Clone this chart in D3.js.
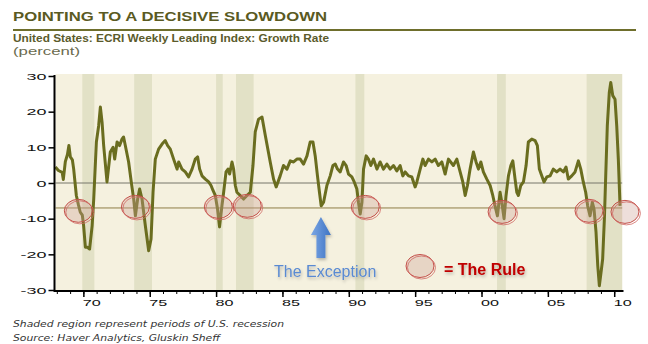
<!DOCTYPE html>
<html>
<head>
<meta charset="utf-8">
<script src="https://cdn.jsdelivr.net/npm/d3@7"></script>
<style>
  body { margin: 0; background: #fff; }
  svg { display: block; }
</style>
</head>
<body>
<svg id="chart" width="648" height="344"></svg>
<script>
// ECRI weekly leading index growth rate (percent)
var years = [
  1967.89, 1968.12, 1968.40, 1968.49, 1968.64, 1968.80, 1968.91, 1969.02, 1969.17, 1969.27,
  1969.47, 1969.62, 1969.77, 1969.92, 1970.02, 1970.15, 1970.30, 1970.47, 1970.66, 1970.78,
  1970.98, 1971.15, 1971.28, 1971.41, 1971.53, 1971.78, 1972.03, 1972.24, 1972.36, 1972.54,
  1972.73, 1972.91, 1973.03, 1973.16, 1973.41, 1973.61, 1973.79, 1973.92, 1974.09, 1974.24,
  1974.42, 1974.67, 1974.92, 1975.10, 1975.25, 1975.42, 1975.67, 1975.93, 1976.17, 1976.35,
  1976.55, 1976.80, 1977.06, 1977.18, 1977.43, 1977.68, 1977.93, 1978.19, 1978.43, 1978.61,
  1978.76, 1978.94, 1979.19, 1979.44, 1979.62, 1979.77, 1979.94, 1980.11, 1980.26, 1980.44,
  1980.57, 1980.75, 1980.90, 1981.02, 1981.20, 1981.32, 1981.45, 1981.57, 1981.82, 1982.07,
  1982.33, 1982.58, 1982.78, 1982.95, 1983.20, 1983.46, 1983.71, 1984.08, 1984.33, 1984.53,
  1984.83, 1985.08, 1985.34, 1985.59, 1985.84, 1986.09, 1986.34, 1986.59, 1986.85, 1987.09,
  1987.30, 1987.47, 1987.64, 1987.79, 1987.92, 1988.10, 1988.35, 1988.60, 1988.80, 1988.98,
  1989.15, 1989.35, 1989.60, 1989.80, 1989.98, 1990.23, 1990.41, 1990.61, 1990.73, 1990.86,
  1990.99, 1991.11, 1991.31, 1991.48, 1991.66, 1991.86, 1992.12, 1992.36, 1992.61, 1992.87,
  1993.12, 1993.37, 1993.62, 1993.87, 1994.07, 1994.25, 1994.50, 1994.75, 1995.00, 1995.13,
  1995.38, 1995.58, 1995.75, 1996.00, 1996.26, 1996.51, 1996.75, 1997.01, 1997.26, 1997.51,
  1997.88, 1998.14, 1998.39, 1998.59, 1998.77, 1998.94, 1999.14, 1999.39, 1999.59, 1999.77,
  1999.95, 2000.14, 2000.40, 2000.65, 2000.85, 2001.02, 2001.20, 2001.40, 2001.53, 2001.70,
  2001.85, 2002.03, 2002.21, 2002.36, 2002.53, 2002.66, 2002.78, 2002.96, 2003.16, 2003.36,
  2003.53, 2003.79, 2004.04, 2004.21, 2004.36, 2004.54, 2004.71, 2004.92, 2005.17, 2005.41,
  2005.67, 2005.92, 2006.17, 2006.37, 2006.54, 2006.80, 2007.05, 2007.30, 2007.48, 2007.67,
  2007.85, 2008.00, 2008.18, 2008.35, 2008.48, 2008.63, 2008.76, 2008.88, 2009.01, 2009.13,
  2009.26, 2009.36, 2009.48, 2009.63, 2009.74, 2009.89, 2010.06, 2010.19, 2010.31, 2010.44
];
var growth = [
  4.5, 3.5, 3.0, 1.0, 6.0, 8.0, 10.5, 7.3, 6.5, 3.9,
  -3.5, -6.0, -8.2, -9.0, -12.0, -18.0, -18.0, -18.5, -12.0, -4.5,
  11.5, 16.0, 21.3, 17.0, 10.5, 0.3, 8.7, 10.0, 6.7, 11.5,
  10.5, 12.3, 12.9, 10.5, 5.9, 0.3, -4.5, -9.2, -4.5, -1.7,
  -4.5, -12.0, -19.0, -15.7, -2.6, 6.7, 9.5, 10.9, 11.9, 10.5,
  9.5, 6.7, 3.9, 5.9, 3.9, 3.1, 1.7, 3.9, 6.7, 7.3,
  3.9, 2.0, 1.1, 0.3, -0.7, -2.1, -3.5, -7.3, -12.3, -6.4,
  -2.6, 3.1, 3.9, 2.5, 5.9, 3.9, -0.7, -2.6, -3.5, -4.5,
  -3.5, -2.6, 4.9, 14.3, 17.9, 18.5, 13.3, 5.9, 1.1, -1.1,
  2.0, 4.9, 3.9, 6.2, 5.9, 6.7, 6.7, 5.3, 7.6, 11.5,
  11.5, 7.6, 2.0, -2.6, -6.4, -5.4, -0.7, 2.0, 4.9, 5.3,
  3.9, 3.1, 5.9, 4.9, 2.5, 1.7, 0.3, -1.7, -5.4, -8.7,
  -5.4, 3.9, 7.6, 6.7, 4.9, 6.7, 3.9, 5.9, 3.9, 5.3,
  3.9, 4.9, 3.4, 4.9, 2.0, 3.1, 2.0, 1.7, -1.1, 0.3,
  3.9, 6.7, 4.9, 6.7, 5.9, 6.7, 4.9, 5.9, 2.5, 6.7,
  4.9, 6.7, 3.1, 0.3, -3.5, -0.7, 3.9, 8.7, 5.9, 3.9,
  5.9, 3.1, 1.1, -0.7, -3.5, -6.4, -9.2, -2.6, -5.4, -10.0,
  -3.5, 2.0, 4.9, 6.2, 1.1, -2.6, -3.5, -0.7, 0.3, 4.9,
  11.5, 12.3, 11.9, 10.5, 3.9, 2.0, 0.3, 1.7, 2.0, 3.9,
  3.1, 3.9, 3.1, 4.5, 1.1, 2.0, 3.1, 6.2, 3.9, 0.3,
  -2.6, -6.4, -9.2, -5.4, -7.3, -13.8, -23.2, -28.8, -25.0, -21.3,
  -10.0, 2.0, 16.0, 25.4, 28.2, 24.5, 23.5, 16.0, 6.7, -6.4
];

// US recessions (start, end) in decimal years
var recessionStart = [1969.92, 1973.83, 1980.0, 1981.5, 1990.5, 2001.17, 2007.92];
var recessionEnd   = [1970.83, 1975.17, 1980.5, 1982.83, 1991.17, 2001.83, 2010.6];

// "the rule" circles
var ruleYears  = [1969.62, 1973.92, 1980.17, 1982.35, 1991.24, 2001.55, 2008.1, 2010.81];
var ruleValues = [-7.8, -6.7, -6.7, -6.4, -6.7, -8.1, -7.8, -8.1];

var thresholdValue = -7;
var exceptionYear = 1987.9;

var yTicks = [-30, -20, -10, 0, 10, 20, 30];
var xMinorTicks = d3.range(1968, 2011);
var xMajorTicks = [1970, 1975, 1980, 1985, 1990, 1995, 2000, 2005, 2010];
var xTickLabels = ["70", "75", "80", "85", "90", "95", "00", "05", "10"];

var svg = d3.select("#chart");

var x = d3.scaleLinear().domain([1967.9, 2010.7]).range([55.5, 623.5]);
var y = d3.scaleLinear().domain([-30, 30]).range([290, 76]);
var plotRight = x(2010.6);

var defs = svg.append("defs");
var shadow = defs.append("filter").attr("id", "shadow")
    .attr("x", "-20%").attr("y", "-40%").attr("width", "140%").attr("height", "180%");
shadow.append("feDropShadow")
    .attr("dx", 1).attr("dy", 2).attr("stdDeviation", 1.5)
    .attr("flood-color", "#000").attr("flood-opacity", 0.25);

// titles
svg.append("text")
    .attr("x", 13).attr("y", 21)
    .attr("textLength", 314).attr("lengthAdjust", "spacingAndGlyphs")
    .attr("font-family", "Liberation Sans, Arial, sans-serif")
    .attr("font-weight", "bold").attr("font-size", 12.5)
    .attr("fill", "#5a5a22")
    .text("POINTING TO A DECISIVE SLOWDOWN");

svg.append("line")
    .attr("x1", 13).attr("x2", 636).attr("y1", 30).attr("y2", 30)
    .attr("stroke", "#6e6e2c").attr("stroke-width", 2);

svg.append("text")
    .attr("x", 13).attr("y", 42)
    .attr("textLength", 316).attr("lengthAdjust", "spacingAndGlyphs")
    .attr("font-family", "Liberation Sans, Arial, sans-serif")
    .attr("font-weight", "bold").attr("font-size", 10.5)
    .attr("fill", "#5b5b2c")
    .text("United States: ECRI Weekly Leading Index: Growth Rate");

svg.append("text")
    .attr("x", 13).attr("y", 55)
    .attr("textLength", 67).attr("lengthAdjust", "spacingAndGlyphs")
    .attr("font-family", "Liberation Sans, Arial, sans-serif")
    .attr("font-size", 10.5)
    .attr("fill", "#6b6b4e")
    .text("(percent)");

// plot background + recession shading
var chartG = svg.append("g");

chartG.append("rect")
    .attr("x", x.range()[0]).attr("y", 74)
    .attr("width", plotRight - x.range()[0]).attr("height", 216)
    .attr("fill", "#f5f1df");

chartG.selectAll(".recession")
    .data(recessionStart)
    .enter().append("rect")
    .attr("class", "recession")
    .attr("x", function(d) { return x(d); })
    .attr("y", 74)
    .attr("width", function(d, i) { return x(recessionEnd[i]) - x(d); })
    .attr("height", 216)
    .attr("fill", "#e2e1c6");

// reference lines
chartG.append("line")
    .attr("x1", x.range()[0]).attr("x2", plotRight)
    .attr("y1", y(0)).attr("y2", y(0))
    .attr("stroke", "#77776a").attr("stroke-width", 1);

chartG.append("line")
    .attr("x1", x.range()[0]).attr("x2", plotRight)
    .attr("y1", y(thresholdValue)).attr("y2", y(thresholdValue))
    .attr("stroke", "#8f7d48").attr("stroke-width", 1);

// the series
var line = d3.line()
    .x(function(d, i) { return x(years[i]); })
    .y(function(d) { return y(d); });

chartG.append("path")
    .datum(growth)
    .attr("d", line)
    .attr("fill", "none")
    .attr("stroke", "#6a6d1f")
    .attr("stroke-width", 3)
    .attr("stroke-linejoin", "round");

// rule circles (two hand-drawn looking strokes)
function drawRule(g, cx, cy) {
  g.append("ellipse")
      .attr("cx", cx).attr("cy", cy).attr("rx", 14).attr("ry", 11.5)
      .attr("fill", "rgba(205,160,150,0.35)")
      .attr("stroke", "#c4504a").attr("stroke-width", 1);
  g.append("ellipse")
      .attr("cx", cx + 1.5).attr("cy", cy + 1.5).attr("rx", 14).attr("ry", 11.5)
      .attr("fill", "none")
      .attr("stroke", "#cf6a64").attr("stroke-width", 0.8);
}

var ruleG = svg.append("g");
ruleYears.forEach(function(yr, i) {
  drawRule(ruleG, x(yr), y(ruleValues[i]));
});

// axes
var yAxisG = svg.append("g")
    .attr("transform", "translate(54.5,0)")
    .call(d3.axisLeft(y).tickValues(yTicks).tickSize(6).tickFormat(function(d) { return d; }));
yAxisG.select(".domain").remove();
yAxisG.selectAll(".tick line").attr("stroke", "#000").attr("stroke-width", 1.5);
yAxisG.selectAll(".tick text")
    .attr("x", -8).attr("dy", "0.36em")
    .attr("font-family", "Liberation Sans, Arial, sans-serif")
    .attr("font-size", 8.5)
    .attr("fill", "#111")
    .attr("lengthAdjust", "spacingAndGlyphs")
    .attr("textLength", function(d) { return String(d).replace("-", "").length * 10 + (d < 0 ? 6 : 0); });

svg.append("line")
    .attr("x1", 54.5).attr("x2", 54.5).attr("y1", 75).attr("y2", 292)
    .attr("stroke", "#000").attr("stroke-width", 2);

var xMinorG = svg.append("g")
    .attr("transform", "translate(0,291)")
    .call(d3.axisBottom(x).tickValues(xMinorTicks).tickSize(3).tickFormat(""));
xMinorG.select(".domain").remove();
xMinorG.selectAll(".tick line").attr("stroke", "#000").attr("stroke-width", 1);

var xMajorG = svg.append("g")
    .attr("transform", "translate(0,291)")
    .call(d3.axisBottom(x).tickValues(xMajorTicks).tickSize(6)
      .tickFormat(function(d, i) { return xTickLabels[i]; }));
xMajorG.select(".domain").remove();
xMajorG.selectAll(".tick line").attr("stroke", "#000").attr("stroke-width", 1.5);
xMajorG.selectAll(".tick text")
    .attr("x", -1).attr("y", 9).attr("dy", "0.71em")
    .attr("text-anchor", "start")
    .attr("font-family", "Liberation Sans, Arial, sans-serif")
    .attr("font-size", 8.5)
    .attr("fill", "#111")
    .attr("lengthAdjust", "spacingAndGlyphs")
    .attr("textLength", 18);

svg.append("line")
    .attr("x1", 54).attr("x2", 623.5).attr("y1", 291).attr("y2", 291)
    .attr("stroke", "#000").attr("stroke-width", 2);

// annotations
var ax = x(exceptionYear);
var arrowGrad = defs.append("linearGradient").attr("id", "arrowGrad")
    .attr("x1", 0).attr("x2", 1).attr("y1", 0).attr("y2", 0);
arrowGrad.append("stop").attr("offset", "0%").attr("stop-color", "#7aa6e4");
arrowGrad.append("stop").attr("offset", "100%").attr("stop-color", "#3f74c4");

svg.append("path")
    .attr("d", d3.line()([
      [ax, 217], [ax + 10, 235], [ax + 4.5, 235], [ax + 4.5, 258],
      [ax - 4.5, 258], [ax - 4.5, 235], [ax - 10, 235]
    ]) + "Z")
    .attr("fill", "url(#arrowGrad)")
    .attr("filter", "url(#shadow)");

svg.append("text")
    .attr("x", 274).attr("y", 277)
    .attr("font-family", "Liberation Sans, Arial, sans-serif")
    .attr("font-size", 16)
    .attr("fill", "#5a8ad2")
    .attr("filter", "url(#shadow)")
    .text("The Exception");

var legendG = svg.append("g");
drawRule(legendG, 420, 266);

svg.append("text")
    .attr("x", 444).attr("y", 275)
    .attr("font-family", "Liberation Sans, Arial, sans-serif")
    .attr("font-size", 16).attr("font-weight", "bold")
    .attr("fill", "#c00000")
    .attr("filter", "url(#shadow)")
    .text("= The Rule");

// footer
svg.append("text")
    .attr("x", 13).attr("y", 327)
    .attr("textLength", 271).attr("lengthAdjust", "spacingAndGlyphs")
    .attr("font-family", "DejaVu Sans, sans-serif")
    .attr("font-style", "italic").attr("font-size", 9)
    .attr("fill", "#333")
    .text("Shaded region represent periods of U.S. recession");

svg.append("text")
    .attr("x", 13).attr("y", 341)
    .attr("textLength", 207).attr("lengthAdjust", "spacingAndGlyphs")
    .attr("font-family", "DejaVu Sans, sans-serif")
    .attr("font-style", "italic").attr("font-size", 9)
    .attr("fill", "#333")
    .text("Source: Haver Analytics, Gluskin Sheff");
</script>
</body>
</html>
